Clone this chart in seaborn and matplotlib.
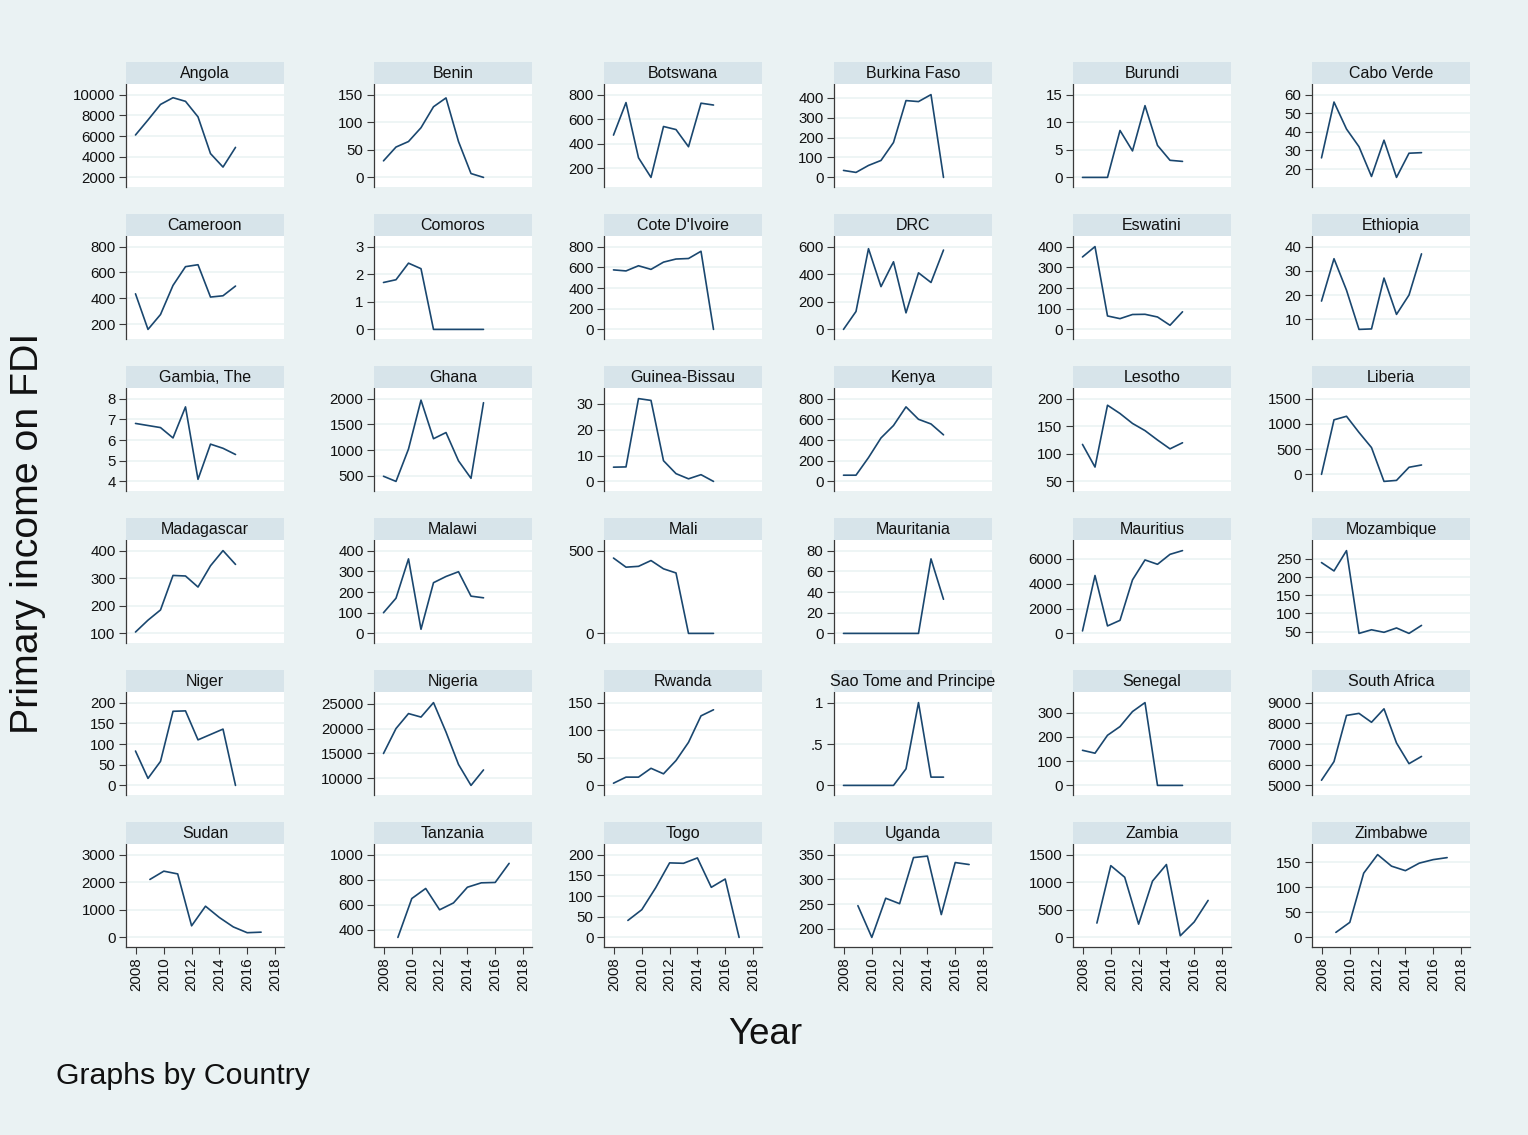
import matplotlib
matplotlib.use("Agg")
import matplotlib.pyplot as plt
import numpy as np
import pandas as pd
import seaborn as sns
from matplotlib.patches import Rectangle

# ---------------------------------------------------------------- data
years_a = [2008, 2009, 2010, 2011, 2012, 2013, 2014, 2015, 2016]
years_b = [2009, 2010, 2011, 2012, 2013, 2014, 2015, 2016, 2017]
year_ticks = [2008, 2010, 2012, 2014, 2016, 2018]

countries = [
    "Angola", "Benin", "Botswana", "Burkina Faso", "Burundi", "Cabo Verde",
    "Cameroon", "Comoros", "Cote D'Ivoire", "DRC", "Eswatini", "Ethiopia",
    "Gambia, The", "Ghana", "Guinea-Bissau", "Kenya", "Lesotho", "Liberia",
    "Madagascar", "Malawi", "Mali", "Mauritania", "Mauritius", "Mozambique",
    "Niger", "Nigeria", "Rwanda", "Sao Tome and Principe", "Senegal", "South Africa",
    "Sudan", "Tanzania", "Togo", "Uganda", "Zambia", "Zimbabwe",
]

angola = [6100, 7550, 9050, 9700, 9350, 7850, 4300, 3000, 4900]
benin = [30, 55, 65, 90, 128, 144, 65, 7, 0]
botswana = [470, 735, 285, 125, 540, 515, 375, 730, 715]
burkina_faso = [35, 25, 60, 85, 175, 385, 380, 415, 0]
burundi = [0, 0, 0, 8.5, 4.8, 13, 5.8, 3.1, 2.9]
cabo_verde = [26, 56, 41.5, 32, 16, 35.5, 15.5, 28.5, 28.8]

cameroon = [435, 160, 275, 500, 645, 660, 410, 420, 495]
comoros = [1.7, 1.8, 2.4, 2.2, 0, 0, 0, 0, 0]
cote_divoire = [575, 565, 615, 580, 650, 680, 685, 755, 0]
drc = [0, 130, 585, 310, 490, 120, 410, 340, 575]
eswatini = [350, 400, 65, 52, 72, 73, 60, 20, 85]
ethiopia = [17.5, 35, 22, 5.8, 6, 27, 12, 20, 37]

gambia = [6.8, 6.7, 6.6, 6.1, 7.6, 4.1, 5.8, 5.6, 5.3]
ghana = [490, 390, 1020, 1970, 1220, 1340, 790, 450, 1920]
guinea_bissau = [5.5, 5.6, 32, 31.3, 8, 3, 1, 2.6, 0]
kenya = [60, 60, 230, 420, 540, 720, 600, 555, 450]
lesotho = [117, 76, 188, 173, 155, 142, 125, 109, 120]
liberia = [0, 1080, 1150, 830, 530, -140, -120, 140, 185]

madagascar = [105, 148, 185, 310, 308, 268, 345, 400, 350]
malawi = [100, 170, 360, 20, 245, 275, 298, 180, 172]
mali = [455, 400, 405, 440, 390, 365, 0, 0, 0]
mauritania = [0, 0, 0, 0, 0, 0, 0, 72, 33]
mauritius = [200, 4650, 600, 1050, 4300, 5900, 5550, 6350, 6650]
mozambique = [240, 217, 273, 45, 55, 48, 60, 45, 67]

niger = [83, 17, 58, 179, 180, 110, 123, 136, 0]
nigeria = [15000, 20000, 23000, 22300, 25200, 19300, 12800, 8600, 11700]
rwanda = [4, 15, 15, 31, 21, 45, 78, 126, 137]
sao_tome = [0, 0, 0, 0, 0, 0.2, 1, 0.1, 0.1]
senegal = [145, 133, 207, 243, 305, 342, 0, 0, 0]
south_africa = [5250, 6150, 8380, 8480, 8050, 8700, 7050, 6050, 6400]

sudan = [2100, 2400, 2300, 420, 1130, 720, 380, 170, 190]
tanzania = [340, 650, 730, 560, 615, 740, 775, 778, 930]
togo = [41, 67, 120, 180, 179, 192, 121, 141, 0]
uganda = [247, 183, 262, 251, 344, 347, 229, 334, 330]
zambia = [260, 1300, 1090, 240, 1020, 1320, 30, 280, 670]
zimbabwe = [10, 30, 128, 165, 142, 133, 148, 155, 159]

values = [
    angola, benin, botswana, burkina_faso, burundi, cabo_verde,
    cameroon, comoros, cote_divoire, drc, eswatini, ethiopia,
    gambia, ghana, guinea_bissau, kenya, lesotho, liberia,
    madagascar, malawi, mali, mauritania, mauritius, mozambique,
    niger, nigeria, rwanda, sao_tome, senegal, south_africa,
    sudan, tanzania, togo, uganda, zambia, zimbabwe,
]

y_ticks = [
    [2000, 4000, 6000, 8000, 10000], [0, 50, 100, 150], [200, 400, 600, 800],
    [0, 100, 200, 300, 400], [0, 5, 10, 15], [20, 30, 40, 50, 60],
    [200, 400, 600, 800], [0, 1, 2, 3], [0, 200, 400, 600, 800],
    [0, 200, 400, 600], [0, 100, 200, 300, 400], [10, 20, 30, 40],
    [4, 5, 6, 7, 8], [500, 1000, 1500, 2000], [0, 10, 20, 30],
    [0, 200, 400, 600, 800], [50, 100, 150, 200], [0, 500, 1000, 1500],
    [100, 200, 300, 400], [0, 100, 200, 300, 400], [0, 500],
    [0, 20, 40, 60, 80], [0, 2000, 4000, 6000], [50, 100, 150, 200, 250],
    [0, 50, 100, 150, 200], [10000, 15000, 20000, 25000], [0, 50, 100, 150],
    [0, 0.5, 1], [0, 100, 200, 300], [5000, 6000, 7000, 8000, 9000],
    [0, 1000, 2000, 3000], [400, 600, 800, 1000], [0, 50, 100, 150, 200],
    [200, 250, 300, 350], [0, 500, 1000, 1500], [0, 50, 100, 150],
]

frames = []
for i, (name, vals) in enumerate(zip(countries, values)):
    yrs = years_b if i >= 30 else years_a
    frames.append(pd.DataFrame({"Country": name, "year": yrs, "income": vals}))
df = pd.concat(frames, ignore_index=True)

# ---------------------------------------------------------------- style
sns.set_theme(style="white")
plt.rcParams["font.family"] = ["Liberation Sans", "DejaVu Sans"]

BG = "#EAF2F3"
STRIP = "#D7E4EA"
NAVY = "#1A476F"
AXIS = "#3A3A3A"

W, H = 1528, 1135
fig = plt.figure(figsize=(W / 100, H / 100), dpi=100)
fig.patch.set_facecolor(BG)

col_left = [126, 374, 604, 834, 1073, 1312]
row_top = [62, 214, 366, 518, 670, 822]
panel_w, strip_h, plot_h = 158, 22, 103


def fmt(v):
    if float(v).is_integer():
        return str(int(v))
    s = f"{v:g}"
    return s[1:] if s.startswith("0.") else s


for i, name in enumerate(countries):
    r, c = divmod(i, 6)
    left = col_left[c]
    top = row_top[r]
    fig.add_artist(Rectangle((left / W, 1 - (top + strip_h) / H), panel_w / W, strip_h / H,
                             transform=fig.transFigure, facecolor=STRIP, edgecolor="none"))
    fig.text((left + panel_w / 2) / W, 1 - (top + 16) / H, name,
             ha="center", va="baseline", fontsize=11.5, color="#111111")

    ax = fig.add_axes([left / W, 1 - (top + strip_h + plot_h) / H, panel_w / W, plot_h / H])
    ax.set_facecolor("white")
    sub = df[df["Country"] == name]
    sns.lineplot(data=sub, x="year", y="income", ax=ax, color=NAVY, linewidth=1.2,
                 estimator=None, legend=False)

    ticks = y_ticks[i]
    lo = min(min(sub["income"]), min(ticks))
    hi = max(max(sub["income"]), max(ticks))
    span = hi - lo
    ax.set_ylim(lo - span * 9.5 / 82, hi + span * 10.5 / 82)
    ax.set_yticks(ticks)
    ax.set_yticklabels([fmt(t) for t in ticks])
    for t in ticks:
        ax.axhline(t, color=BG, linewidth=1.1, zorder=0)

    for s in ["top", "right"]:
        ax.spines[s].set_visible(False)
    ax.spines["left"].set_color(AXIS)
    ax.spines["left"].set_linewidth(0.9)
    ax.tick_params(axis="y", which="both", left=True, length=5, width=0.8, color=AXIS,
                   pad=2.5, labelsize=10.8, labelcolor="#111111")
    ax.set_ylabel("")
    ax.set_xlabel("")

    if r == 5:
        ax.set_xlim(2008 - 10 / 13.9, 2008 + 148 / 13.9)
        ax.set_xticks(year_ticks)
        ax.set_xticklabels([str(y) for y in year_ticks], rotation=90)
        ax.spines["bottom"].set_color(AXIS)
        ax.spines["bottom"].set_linewidth(0.9)
        ax.tick_params(axis="x", bottom=True, length=5, width=0.8, color=AXIS,
                       pad=2.5, labelsize=10.8, labelcolor="#111111")
    else:
        ax.set_xlim(2008 - 9.5 / 12.5, 2008 + 148.5 / 12.5)
        ax.set_xticks([])
        ax.spines["bottom"].set_visible(False)

fig.text(28 / W, 1 - 533 / H, "Primary income on FDI", rotation=90,
         ha="center", va="center", fontsize=28.3, color="#111111")
fig.text(765 / W, 1 - 1034 / H, "Year", ha="center", va="center",
         fontsize=26.5, color="#111111")
fig.text(56 / W, 1 - 1076 / H, "Graphs by Country", ha="left", va="center",
         fontsize=21.8, color="#111111")

fig.savefig("out.png", dpi=100, facecolor=fig.get_facecolor())
